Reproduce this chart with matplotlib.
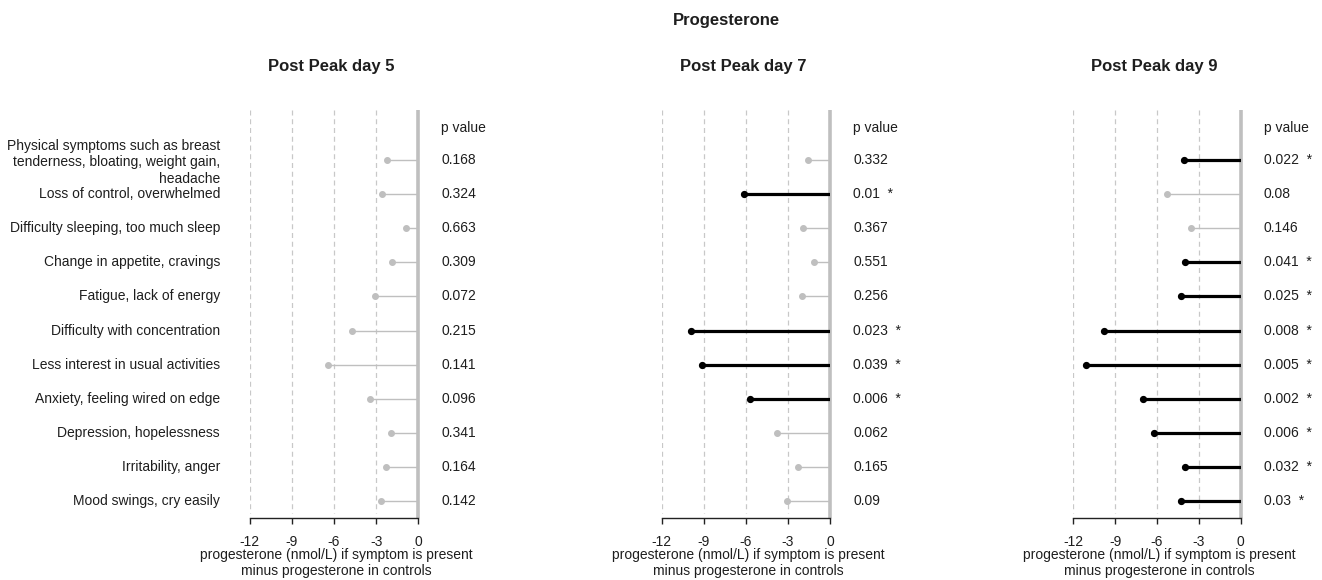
import matplotlib.pyplot as plt

plt.rcParams['font.family'] = ['Liberation Sans', 'DejaVu Sans']

# symptom labels, top to bottom
symptoms = [
    "Physical symptoms such as breast\ntenderness, bloating, weight gain,\nheadache",
    "Loss of control, overwhelmed",
    "Difficulty sleeping, too much sleep",
    "Change in appetite, cravings",
    "Fatigue, lack of energy",
    "Difficulty with concentration",
    "Less interest in usual activities",
    "Anxiety, feeling wired on edge",
    "Depression, hopelessness",
    "Irritability, anger",
    "Mood swings, cry easily",
]

panel_titles = ["Post Peak day 5", "Post Peak day 7", "Post Peak day 9"]

# difference in progesterone (nmol/L), symptom present minus controls
diff_day5 = [-2.2, -2.6, -0.9, -1.9, -3.1, -4.7, -6.4, -3.45, -1.95, -2.3, -2.65]
diff_day7 = [-1.55, -6.15, -1.95, -1.15, -2.0, -9.9, -9.15, -5.7, -3.8, -2.25, -3.1]
diff_day9 = [-4.1, -5.3, -3.55, -4.0, -4.3, -9.8, -11.1, -7.0, -6.2, -4.0, -4.3]

p_day5 = ["0.168", "0.324", "0.663", "0.309", "0.072", "0.215", "0.141", "0.096", "0.341", "0.164", "0.142"]
p_day7 = ["0.332", "0.01", "0.367", "0.551", "0.256", "0.023", "0.039", "0.006", "0.062", "0.165", "0.09"]
p_day9 = ["0.022", "0.08", "0.146", "0.041", "0.025", "0.008", "0.005", "0.002", "0.006", "0.032", "0.03"]

x_ticks = [-12, -9, -6, -3, 0]

GREY = '#bfbfbf'
DASH = '#c8c8c8'
TEXT = '#1e1e1e'
FS = 10

W, H = 1322, 580
fig = plt.figure(figsize=(W / 100, H / 100), dpi=100)

# pixel positions of x = -12 and x = 0 in each panel
panel_px = [(249.5, 418.3), (661.7, 830.0), (1073.3, 1240.7)]
top_px, bottom_px = 110, 518

fig.text(726 / W, 1 - 20 / H, "Progesterone", ha='center', va='center',
         fontsize=12, fontweight='bold', color=TEXT)

panels = [(diff_day5, p_day5), (diff_day7, p_day7), (diff_day9, p_day9)]
rows = list(range(len(symptoms)))

for k, ((vals, pvals), (x0, x1)) in enumerate(zip(panels, panel_px)):
    ax = fig.add_axes([x0 / W, (H - bottom_px) / H, (x1 - x0) / W, (bottom_px - top_px) / H])
    ax.set_xlim(-12, 0)
    ax.set_ylim(10.5, -1.47)

    for s in ['top', 'right', 'left']:
        ax.spines[s].set_visible(False)
    ax.spines['bottom'].set_linewidth(1.0)
    ax.spines['bottom'].set_color('#222222')
    ax.set_yticks([])
    ax.set_xticks(x_ticks)
    ax.set_xticklabels([str(t) for t in x_ticks], fontsize=FS, color=TEXT)
    ax.tick_params(axis='x', length=4.5, width=1.0, pad=8, color='#222222')

    # dashed reference lines
    ax.vlines(x_ticks[:-1], -1.47, 10.35, colors=DASH, linestyles=(0, (4, 3)), linewidth=0.9)
    # zero line
    ax.vlines(0, -1.47, 10.5, colors=GREY, linewidth=2.6, clip_on=False, zorder=1)

    for r, v, p in zip(rows, vals, pvals):
        sig = float(p) < 0.05
        if sig:
            ax.hlines(r, v, 0, colors='black', linewidth=2.3, zorder=3)
            ax.plot(v, r, 'o', color='black', markersize=4.2, zorder=4, clip_on=False)
            label = p + "  *"
        else:
            ax.hlines(r, v, 0, colors=GREY, linewidth=1.0, zorder=2)
            ax.plot(v, r, 'o', color=GREY, markersize=4.0, zorder=2, clip_on=False)
            label = p
        ax.text(1.64, r, label, ha='left', va='center', fontsize=FS, color=TEXT)

    ax.text(1.64, -0.94, "p value", ha='left', va='center', fontsize=FS, color=TEXT)

    ax.annotate(panel_titles[k], xy=(0.5, 1), xycoords='axes fraction',
                xytext=(-3, (top_px - 66)), textcoords='offset pixels',
                ha='center', va='center', fontsize=12, fontweight='bold', color=TEXT)

    ax.annotate("progesterone (nmol/L) if symptom is present\nminus progesterone in controls",
                xy=(0.5, 0), xycoords='axes fraction', xytext=(2, -45),
                textcoords='offset pixels', ha='center', va='center',
                fontsize=FS, color=TEXT, linespacing=1.2)

    if k == 0:
        for r, name in zip(rows, symptoms):
            ax.text(-14.1, r + (0.07 if '\n' in name else 0), name, ha='right', va='center',
                    fontsize=FS, color=TEXT, multialignment='right', linespacing=1.25)

fig.savefig('out.png', dpi=100)
